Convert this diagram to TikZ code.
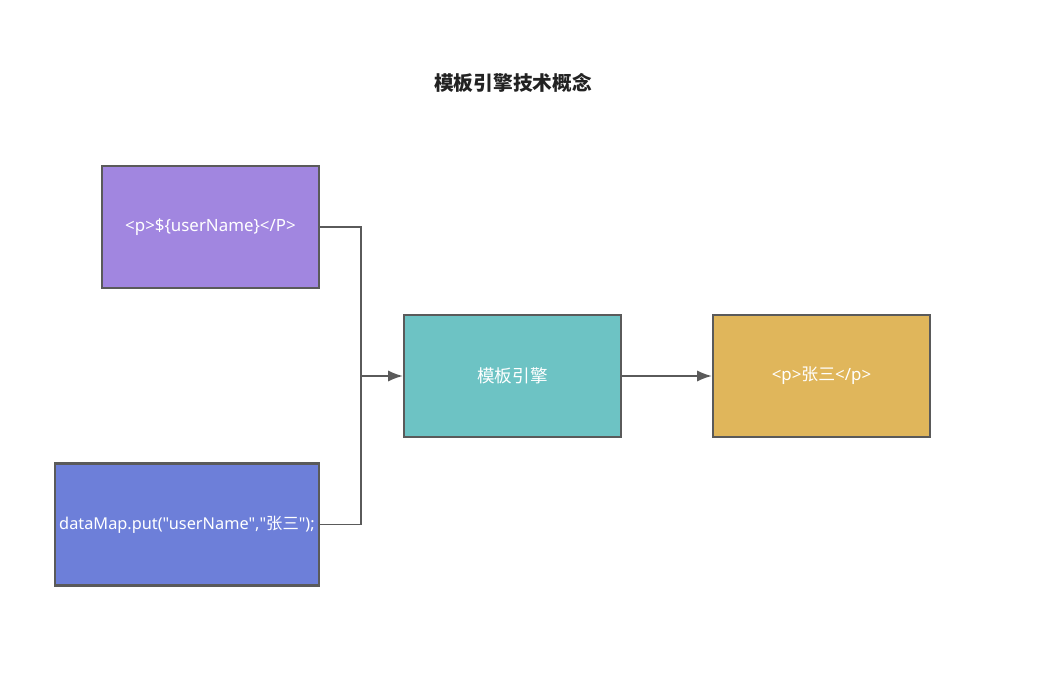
\documentclass[tikz,border=0pt]{standalone}
\usepackage{fontspec}
\newfontfamily\latin{Noto Sans}
\newfontfamily\cjk{Noto Sans CJK SC}
\usetikzlibrary{arrows.meta}

\definecolor{edgegray}{HTML}{5A5A5A}
\definecolor{tplpurple}{HTML}{A186E0}
\definecolor{datablue}{HTML}{6D7FD9}
\definecolor{engineteal}{HTML}{6DC3C4}
\definecolor{resultgold}{HTML}{E0B65B}
\definecolor{titleblack}{HTML}{222222}

\begin{document}
\begin{tikzpicture}[x=0.025cm,y=-0.025cm,line width=1.5pt,
	box/.style={draw=edgegray,text=white,minimum width=5.425cm,minimum height=3.05cm,inner sep=0pt,font=\latin\fontsize{12}{14}\selectfont},
	link/.style={draw=edgegray,line width=1.4pt},
	arr/.style={link,-{Latex[length=10.5pt,width=8pt]}}]
\useasboundingbox (0,0) rectangle (1060,675);

% title
\node[text=titleblack,font=\cjk\fontsize{14}{16}\selectfont\bfseries] (title) at (513,83) {模板引擎技术概念};

% boxes
\node[box,fill=tplpurple] (tpl) at (210.5,227) {<p>\$\{userName\}</P>};
\node[box,fill=datablue,minimum width=6.6cm,font=\latin\fontsize{11.6}{14}\selectfont] (data) at (187,524.5) {\makebox[0pt]{dataMap.put("userName","{\cjk 张三}");}};
\node[box,fill=engineteal] (engine) at (512.5,376) {{\cjk\fontsize{12.5}{14}\selectfont 模板引擎}};
\node[box,fill=resultgold] (result) at (821.5,376) {<p>{\cjk 张三}</p>};

% join point
\coordinate (join) at (361,376);

\draw[link] (tpl.east) -| (join);
\draw[link] (data.east) -| (join);
\draw[arr] (join) -- (engine.west);
\draw[arr] (engine.east) -- (result.west);
\end{tikzpicture}
\end{document}
